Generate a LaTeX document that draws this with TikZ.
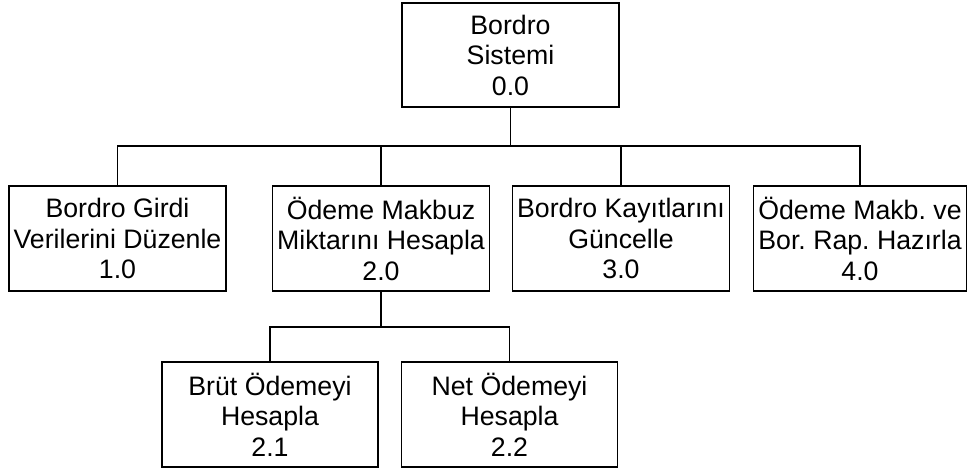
\documentclass[tikz,border=0pt]{standalone}
\usepackage{fontspec}
\setmainfont{Liberation Sans}
\frenchspacing
\begin{document}
\begin{tikzpicture}[x=1pt,y=-1pt,
  procbox/.style={draw=black,line width=1.9pt,inner sep=0pt,minimum width=217pt,minimum height=105pt,align=center,font=\fontsize{26.7}{30.5}\selectfont},
  link/.style={draw=black,line width=1.9pt}]
\useasboundingbox (0,0) rectangle (973,472);
\node[procbox,minimum height=104pt] (root) at (510.5,55) {Bordro\\Sistemi\\0.0};
\node[procbox] (b1) at (117.5,238.5) {Bordro Girdi\\Verilerini Düzenle\\1.0};
\node[procbox] (b2) at (381,238.5) {Ödeme Makbuz\\Miktarını Hesapla\\2.0};
\node[procbox] (b3) at (621,238.5) {Bordro Kayıtlarını\\Güncelle\\3.0};
\node[procbox,minimum width=213pt] (b4) at (860,238.5) {Ödeme Makb. ve\\Bor. Rap. Hazırla\\4.0};
\node[procbox,minimum width=216pt] (b21) at (270,414.5) {Brüt Ödemeyi\\Hesapla\\2.1};
\node[procbox,minimum width=216pt] (b22) at (509.5,414.5) {Net Ödemeyi\\Hesapla\\2.2};
\coordinate (bus1) at (0,146);
\coordinate (bus2) at (0,327);
\draw[link] (root.south) -- (root.south |- bus1);
\draw[link] (b1.north) -- (b1.north |- bus1) -- (b4.north |- bus1) -- (b4.north);
\draw[link] (b2.north) -- (b2.north |- bus1);
\draw[link] (b3.north) -- (b3.north |- bus1);
\draw[link] (b2.south) -- (b2.south |- bus2);
\draw[link] (b21.north) -- (b21.north |- bus2) -- (b22.north |- bus2) -- (b22.north);
\end{tikzpicture}
\end{document}
